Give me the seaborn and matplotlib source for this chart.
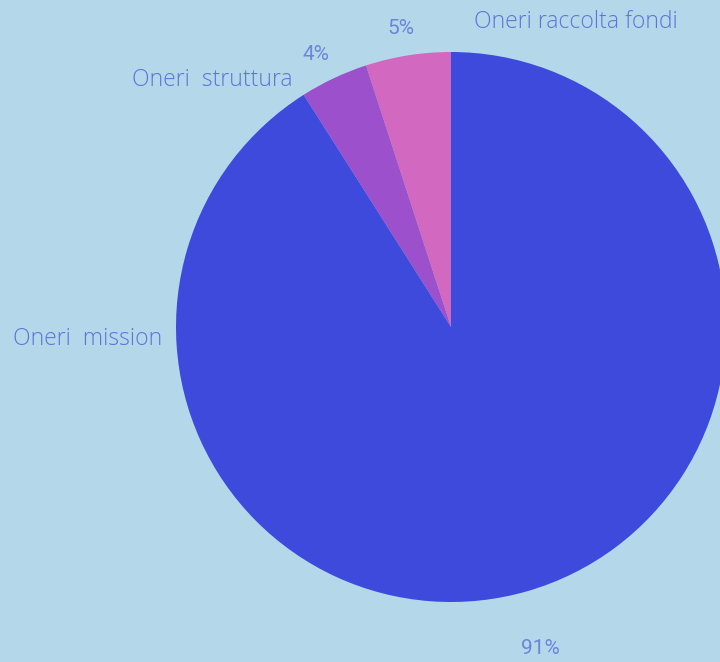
import matplotlib
matplotlib.use("Agg")
import matplotlib.pyplot as plt
import seaborn as sns
import numpy as np

categories = ["Oneri raccolta fondi", "Oneri  struttura", "Oneri  mission"]
values = [5, 4, 91]
colors = ["#d268bf", "#9d50cc", "#3e4adc"]
bg = "#b4d7ea"
txt = "#5a77d8"

sns.set_theme(style="white")
plt.rcParams['font.family'] = ['Open Sans', 'DejaVu Sans']

fig = plt.figure(figsize=(7.2, 6.62), dpi=100, facecolor=bg)
ax = fig.add_axes([0, 0, 1, 1])
ax.set_facecolor(bg)
R = 275
wedges, texts, autotexts = ax.pie(values, colors=colors, startangle=90, counterclock=True,
                                  radius=R, center=(0, 0), labels=categories,
                                  autopct=lambda p: f"{p:.0f}%", pctdistance=1.1,
                                  labeldistance=1.3, frame=False,
                                  wedgeprops=dict(linewidth=0),
                                  textprops=dict(color=txt))
ax.set_xlim(-451, 720 - 451)
ax.set_ylim(-(662 - 327), 327)
ax.set_aspect("equal")
ax.axis("off")

# label placement (pixel offsets from pie centre)
label_pos = [(125, 305), (-239, 247), (-363, -12)]
for t, (x, y) in zip(texts, label_pos):
    t.set_position((x, y))
    t.set_ha("center"); t.set_va("center")
    t.set_fontsize(16.5)
    t.set_fontweight("light")
pct_pos = [(-50, 299), (-135, 273), (89, -321)]
for t, (x, y) in zip(autotexts, pct_pos):
    t.set_position((x, y))
    t.set_ha("center"); t.set_va("center")
    t.set_fontsize(15)
    t.set_fontfamily(["Roboto", "DejaVu Sans"])
    t.set_color("#6a86da")

fig.savefig("out.png", dpi=100, facecolor=bg)
